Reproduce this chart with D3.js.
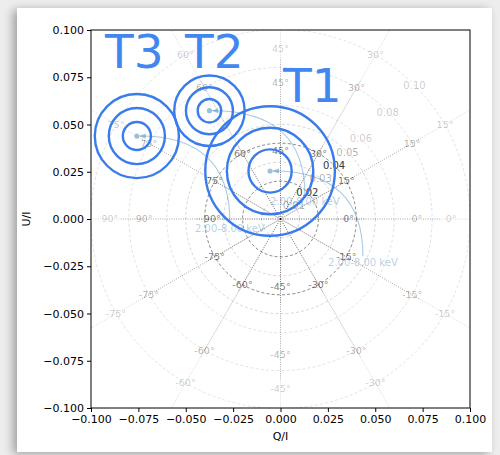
<!DOCTYPE html>
<html>
<head>
<meta charset="utf-8">
<script src="https://cdn.jsdelivr.net/npm/d3@7"></script>
<style>
  html, body { margin: 0; padding: 0; background: #ededed; width: 500px; height: 455px; overflow: hidden; }
  #card { position: absolute; left: 17px; top: 8px; width: 475px; height: 444px; background: #fff;
          box-shadow: -4px 2px 9px rgba(0,0,0,0.33); }
  svg { position: absolute; left: 0; top: 0; }
  text { font-family: "DejaVu Sans", sans-serif; }
</style>
</head>
<body>
<div id="card"></div>
<svg id="chart" width="500" height="455"></svg>
<script>
// ---- measured sources (normalized Stokes Q/I, U/I) ----
const sourceNames = ["T1", "T2", "T3"];
const sourceQ = [-0.0055, -0.0375, -0.0758];
const sourceU = [0.0254, 0.0573, 0.0439];
const sourceSigma = [0.0114, 0.0062, 0.0074];     // 1-sigma radius of each contour set
const sigmaLevels = [1, 2, 3];
const energyLabel = "2.00-8.00 keV";
// annotation anchors (data coordinates)
const energyLabelQ = [0.0435, 0.0129, -0.0267];
const energyLabelU = [-0.0228, 0.0095, -0.0048];
const nameLabelQ = [0.0013, -0.0504, -0.0926];
const nameLabelU = [0.0619, 0.0799, 0.0799];

// ---- polarization grids (three overlaid layers) ----
const gridRings = [[0.02, 0.04], [0.01, 0.02, 0.03, 0.04, 0.05], [0.02, 0.04, 0.06, 0.08, 0.10]];
const gridSpokeEnd = [0.045, 0.085, 0.2];
const gridAngleLabelR = [0.036, 0.072, 0.090];
const gridLineAlpha = [0.26, 0.18, 0.13];
const gridTextAlpha = [0.55, 0.32, 0.22];
const angleTicks = [-75, -60, -45, -30, -15, 0, 15, 30, 45, 60, 75, 90];

// ---- axes ----
const axisTicks = [-0.1, -0.075, -0.05, -0.025, 0, 0.025, 0.05, 0.075, 0.1];

const svg = d3.select("#chart");
const x = d3.scaleLinear().domain([-0.1, 0.1]).range([91, 470]);
const y = d3.scaleLinear().domain([-0.1, 0.1]).range([408, 30]);
const rpx = r => x(r) - x(0);

svg.append("defs").append("clipPath").attr("id", "plotclip")
  .append("rect").attr("x", x(-0.1)).attr("y", y(0.1))
  .attr("width", x(0.1) - x(-0.1)).attr("height", y(-0.1) - y(0.1));

const plot = svg.append("g").attr("clip-path", "url(#plotclip)");

// grid layers
gridRings.forEach((rings, gi) => {
  const a = gridLineAlpha[gi], ta = gridTextAlpha[gi];
  const g = plot.append("g");
  g.selectAll("circle.ring").data(rings).join("circle")
    .attr("cx", x(0)).attr("cy", y(0)).attr("r", d => rpx(d))
    .attr("fill", "none").attr("stroke", "#000").attr("stroke-opacity", a)
    .attr("stroke-width", 0.9).attr("stroke-dasharray", "3,2.2");
  g.selectAll("line.spoke").data(angleTicks).join("line")
    .attr("x1", x(0)).attr("y1", y(0))
    .attr("x2", d => x(gridSpokeEnd[gi] * Math.cos(d * Math.PI / 90)))
    .attr("y2", d => y(gridSpokeEnd[gi] * Math.sin(d * Math.PI / 90)))
    .attr("stroke", "#000").attr("stroke-opacity", a * 1.3)
    .attr("stroke-width", 0.9).attr("stroke-dasharray", "1,1.3");
  // angle labels, laid out on a rounded square around the origin
  g.selectAll("text.ang").data(angleTicks).join("text")
    .attr("x", d => {
      const t = d * Math.PI / 90, m = Math.max(Math.abs(Math.cos(t)), Math.abs(Math.sin(t)));
      return x(gridAngleLabelR[gi] * Math.cos(t) / Math.pow(m, 0.75));
    })
    .attr("y", d => {
      const t = d * Math.PI / 90, m = Math.max(Math.abs(Math.cos(t)), Math.abs(Math.sin(t)));
      return y(gridAngleLabelR[gi] * Math.sin(t) / Math.pow(m, 0.75));
    })
    .attr("text-anchor", "middle").attr("dy", "0.35em")
    .attr("font-size", 9.5).attr("fill", "#000").attr("fill-opacity", ta)
    .text(d => d + "°");
  // radial labels along the 45° diagonal
  g.selectAll("text.rad").data(rings).join("text")
    .attr("x", d => x(d * Math.SQRT1_2)).attr("y", d => y(d * Math.SQRT1_2))
    .attr("text-anchor", "middle").attr("dy", "0.35em")
    .attr("font-size", 10).attr("fill", "#000").attr("fill-opacity", ta)
    .text(d => d3.format(".2f")(d));
});

// energy-band annotations with curved leaders
const lightBlue = "#1f77b4";
svg.select("defs").append("marker").attr("id", "ahead")
  .attr("viewBox", "0 0 10 10").attr("refX", 9).attr("refY", 5)
  .attr("markerWidth", 6).attr("markerHeight", 6).attr("orient", "auto")
  .append("path").attr("d", "M0,1 L10,5 L0,9 z").attr("fill", lightBlue).attr("fill-opacity", 0.4);

sourceNames.forEach((name, i) => {
  const px = x(sourceQ[i]), py = y(sourceU[i]);
  const lx = x(energyLabelQ[i]), ly = y(energyLabelU[i]);
  const topY = ly - 6;
  plot.append("path")
    .attr("d", `M${lx},${topY} Q${lx},${py} ${px + 3},${py}`)
    .attr("fill", "none").attr("stroke", lightBlue).attr("stroke-opacity", 0.38)
    .attr("stroke-width", 1.1).attr("marker-end", "url(#ahead)");
  plot.append("text").attr("x", lx).attr("y", ly).attr("dy", "0.35em")
    .attr("text-anchor", "middle").attr("font-size", 10)
    .attr("fill", lightBlue).attr("fill-opacity", 0.36).text(energyLabel);
  plot.append("circle").attr("cx", px).attr("cy", py).attr("r", 2.6)
    .attr("fill", lightBlue).attr("fill-opacity", 0.45);
});

// confidence contours
const ringBlue = "#3a7cec";
sourceNames.forEach((name, i) => {
  plot.selectAll(null).data(sigmaLevels).join("circle")
    .attr("cx", x(sourceQ[i])).attr("cy", y(sourceU[i]))
    .attr("r", k => rpx(k * sourceSigma[i]))
    .attr("fill", "none").attr("stroke", ringBlue).attr("stroke-width", 2.4);
});

// source names
svg.selectAll("text.src").data(sourceNames).join("text")
  .attr("x", (d, i) => x(nameLabelQ[i])).attr("y", (d, i) => y(nameLabelU[i]))
  .attr("font-family", "Roboto, sans-serif").attr("font-size", 47)
  .attr("fill", "#4287f0").text(d => d);

// axes and frame
const fmt = d3.format(".3f");
const xAxis = svg.append("g").attr("transform", `translate(0,${y(-0.1)})`)
  .call(d3.axisBottom(x).tickValues(axisTicks).tickFormat(fmt).tickSize(4).tickPadding(3).tickSizeOuter(0));
const yAxis = svg.append("g").attr("transform", `translate(${x(-0.1)},0)`)
  .call(d3.axisLeft(y).tickValues(axisTicks).tickFormat(fmt).tickSize(4).tickPadding(3).tickSizeOuter(0));
[xAxis, yAxis].forEach(ax => {
  ax.selectAll("text").attr("font-family", "DejaVu Sans").attr("font-size", 11).attr("fill", "#000");
  ax.select(".domain").remove();
});
svg.append("rect").attr("x", x(-0.1)).attr("y", y(0.1))
  .attr("width", x(0.1) - x(-0.1)).attr("height", y(-0.1) - y(0.1))
  .attr("fill", "none").attr("stroke", "#000").attr("stroke-width", 1);

svg.append("text").attr("x", x(0)).attr("y", 440).attr("text-anchor", "middle")
  .attr("font-size", 11).text("Q/I");
svg.append("text").attr("transform", `translate(30,${y(0)}) rotate(-90)`)
  .attr("text-anchor", "middle").attr("font-size", 11).text("U/I");
</script>
</body>
</html>
